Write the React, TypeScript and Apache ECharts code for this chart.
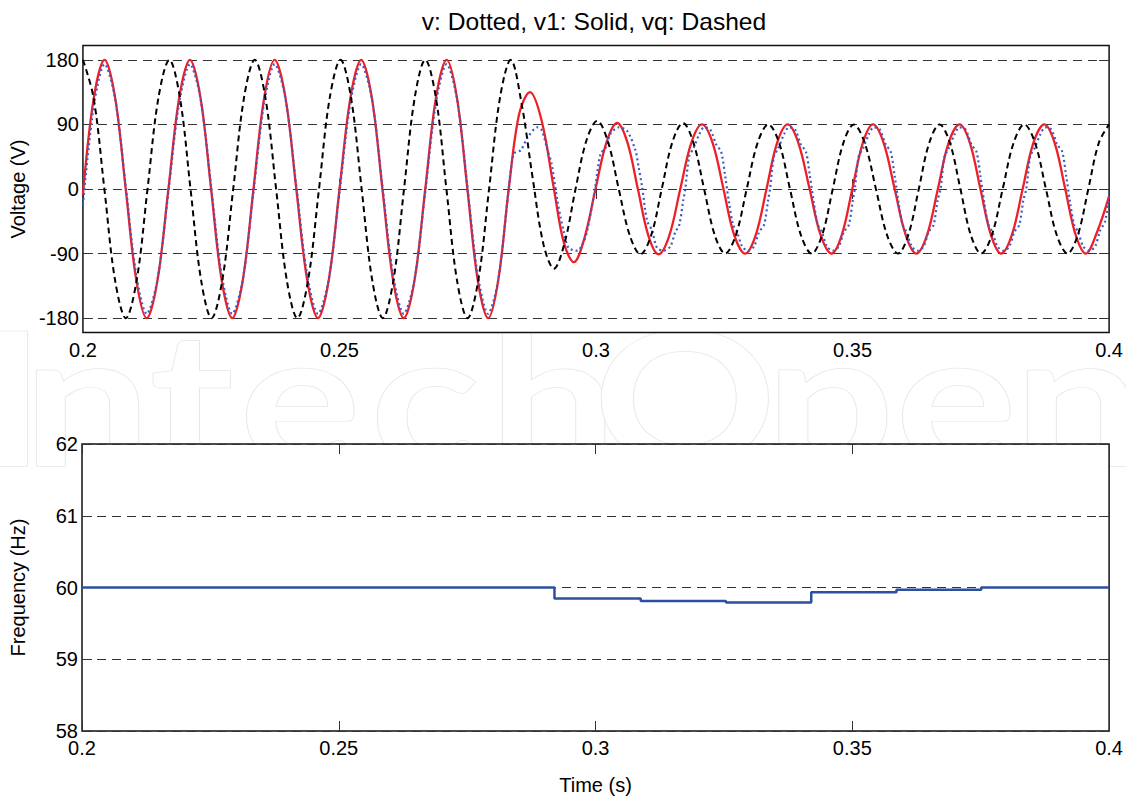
import React, { useEffect, useRef } from "react";
import * as echarts from "echarts";

// ---------- data ----------
const timeTicks = [0.2, 0.25, 0.3, 0.35, 0.4];
const voltageTicks = [-180, -90, 0, 90, 180];
const freqTicks = [58, 59, 60, 61, 62];

// vq : dashed black
const vqData: [number, number][] = [
  [0.20000,180],[0.20208,127],[0.20418,0],[0.20626,-127],[0.20836,-180],[0.21048,-127],[0.21259,0],[0.21471,127],
  [0.21685,180],[0.21891,127],[0.22097,0],[0.22303,-127],[0.22507,-180],[0.22717,-127],[0.22929,0],[0.23139,127],
  [0.23349,180],[0.23557,127],[0.23765,0],[0.23973,-127],[0.24179,-180],[0.24389,-127],[0.24601,0],[0.24810,127],
  [0.25020,180],[0.25226,127],[0.25432,0],[0.25638,-127],[0.25844,-180],[0.26052,-127],[0.26258,0],[0.26466,127],
  [0.26672,180],[0.26880,127],[0.27084,0],[0.27290,-127],[0.27496,-180],[0.27706,-127],[0.27916,0],[0.28128,127],
  [0.28338,180],[0.28552,118],[0.28766,15],[0.28979,-78],[0.29180,-111],[0.29388,-75],[0.29601,0],[0.29815,68],
  [0.30023,95],[0.30233,66],[0.30443,0],[0.30655,-64],[0.30865,-91],[0.31073,-65],[0.31281,0],[0.31487,65],
  [0.31695,92],[0.31901,64],[0.32107,0],[0.32313,-64],[0.32517,-90],[0.32727,-64],[0.32937,0],[0.33148,64],
  [0.33358,90],[0.33570,64],[0.33780,0],[0.33992,-64],[0.34202,-90],[0.34408,-64],[0.34614,0],[0.34820,64],
  [0.35024,90],[0.35238,64],[0.35456,0],[0.35671,-64],[0.35885,-90],[0.36087,-64],[0.36291,0],[0.36493,64],
  [0.36696,90],[0.36898,64],[0.37102,0],[0.37304,-64],[0.37506,-90],[0.37716,-64],[0.37926,0],[0.38138,64],
  [0.38348,90],[0.38558,64],[0.38769,0],[0.38979,-64],[0.39189,-90],[0.39391,-64],[0.39595,0],[0.39798,64],
  [0.40000,90],
];

// v1 : solid red
const v1Data: [number, number][] = [
  [0.20000,-8],[0.20212,127],[0.20422,180],[0.20628,127],[0.20834,0],[0.21040,-127],[0.21244,-180],[0.21454,-127],
  [0.21666,0],[0.21876,127],[0.22086,180],[0.22292,127],[0.22498,0],[0.22704,-127],[0.22910,-180],[0.23116,-127],
  [0.23324,0],[0.23532,127],[0.23738,180],[0.23948,127],[0.24159,0],[0.24371,-127],[0.24581,-180],[0.24791,-127],
  [0.25001,0],[0.25213,127],[0.25423,180],[0.25631,127],[0.25837,0],[0.26045,-127],[0.26253,-180],[0.26463,-127],
  [0.26672,0],[0.26880,127],[0.27088,180],[0.27290,127],[0.27493,0],[0.27695,-127],[0.27897,-180],[0.28095,-127],
  [0.28299,0],[0.28503,105],[0.28713,135],[0.28941,95],[0.29180,0],[0.29374,-75],[0.29568,-102],[0.29776,-68],
  [0.29990,0],[0.30204,65],[0.30412,92],[0.30612,65],[0.30816,0],[0.31020,-65],[0.31220,-91],[0.31428,-65],
  [0.31642,0],[0.31856,64],[0.32064,90],[0.32274,64],[0.32484,0],[0.32692,-64],[0.32906,-90],[0.33114,-64],
  [0.33323,0],[0.33528,64],[0.33735,90],[0.33945,64],[0.34163,0],[0.34377,-64],[0.34591,-90],[0.34791,-64],
  [0.34995,0],[0.35199,64],[0.35399,90],[0.35607,64],[0.35821,0],[0.36035,-64],[0.36243,-90],[0.36453,-64],
  [0.36663,0],[0.36870,64],[0.37084,90],[0.37288,64],[0.37492,0],[0.37697,-64],[0.37895,-90],[0.38105,-64],
  [0.38315,0],[0.38523,64],[0.38736,90],[0.38940,64],[0.39145,0],[0.39349,-64],[0.39547,-90],[0.39766,-60],
  [0.40000,-10],
];

// v : dotted blue
const vData: [number, number][] = [
  [0.20000,-22],[0.20212,116],[0.20422,174],[0.20628,126],[0.20834,4],[0.21040,-120],[0.21244,-174],[0.21454,-126],
  [0.21666,-4],[0.21876,120],[0.22086,174],[0.22292,126],[0.22498,4],[0.22704,-120],[0.22910,-174],[0.23116,-126],
  [0.23324,-4],[0.23532,120],[0.23738,174],[0.23948,126],[0.24159,4],[0.24371,-120],[0.24581,-174],[0.24791,-126],
  [0.25001,-4],[0.25213,120],[0.25423,174],[0.25631,126],[0.25837,4],[0.26045,-120],[0.26253,-174],[0.26463,-126],
  [0.26672,-4],[0.26880,120],[0.27088,174],[0.27290,126],[0.27493,4],[0.27695,-120],[0.27897,-174],[0.28095,-126],
  [0.28299,0],[0.28396,49],[0.28532,54],[0.28669,72],[0.28857,86],[0.28941,82],[0.29051,55],[0.29135,35],
  [0.29246,-16],[0.29310,-40],[0.29368,-58],[0.29465,-82],[0.29634,-86],[0.29763,-73],[0.29829,-58],[0.29980,0],
  [0.30087,49],[0.30185,57],[0.30282,77],[0.30443,86],[0.30606,81],[0.30768,54],[0.30832,30],[0.30898,3],
  [0.30995,-44],[0.31092,-58],[0.31189,-82],[0.31318,-86],[0.31448,-80],[0.31545,-60],[0.31623,-50],[0.31700,-16],
  [0.31739,0],[0.31817,46],[0.31895,56],[0.32011,76],[0.32109,86],[0.32225,83],[0.32342,62],[0.32439,52],
  [0.32517,18],[0.32595,-20],[0.32672,-50],[0.32750,-60],[0.32847,-80],[0.32964,-86],[0.33080,-80],[0.33178,-60],
  [0.33275,-50],[0.33353,-16],
  [0.33391,0],[0.33469,46],[0.33547,56],[0.33663,76],[0.33761,86],[0.33877,83],[0.33994,62],[0.34091,52],
  [0.34169,18],[0.34247,-20],[0.34324,-50],[0.34402,-60],[0.34499,-80],[0.34616,-86],[0.34733,-80],[0.34830,-60],
  [0.34927,-50],[0.35005,-16],
  [0.35043,0],[0.35121,46],[0.35199,56],[0.35316,76],[0.35413,86],[0.35529,83],[0.35646,62],[0.35743,52],
  [0.35821,18],[0.35899,-20],[0.35976,-50],[0.36054,-60],[0.36151,-80],[0.36268,-86],[0.36385,-80],[0.36482,-60],
  [0.36579,-50],[0.36657,-16],
  [0.36715,0],[0.36793,46],[0.36870,56],[0.36987,76],[0.37084,86],[0.37201,83],[0.37318,62],[0.37415,52],
  [0.37492,18],[0.37570,-20],[0.37648,-50],[0.37726,-60],[0.37823,-80],[0.37939,-86],[0.38056,-80],[0.38153,-60],
  [0.38250,-50],[0.38328,-16],
  [0.38386,0],[0.38464,46],[0.38542,56],[0.38659,76],[0.38756,86],[0.38872,83],[0.38989,62],[0.39086,52],
  [0.39164,18],[0.39242,-20],[0.39319,-50],[0.39397,-60],[0.39494,-80],[0.39611,-86],[0.39728,-80],[0.39825,-58],
  [0.39922,-45],[0.40000,-10],
];

// frequency estimate (step)
const freqTime = [0.2, 0.292, 0.3088, 0.3254, 0.342, 0.3586, 0.3751, 0.4];
const freqValue = [60, 59.846, 59.813, 59.79, 59.935, 59.97, 60.0, 60.0];

const titleText = "v: Dotted, v1: Solid, vq: Dashed";
const watermarkLetters = ["I", "n", "t", "e", "c", "h", "O", "p", "e", "n"];

// ---------- layout / style ----------
const FONT = "'Liberation Sans', Arial, Helvetica, sans-serif";
const watermarkCenterX = [12, 87, 192, 300, 425, 553, 685, 830, 956, 1078];

export default function App() {
  const ref = useRef<HTMLDivElement>(null);

  useEffect(() => {
    if (!ref.current) return;
    const chart = echarts.init(ref.current, null, { renderer: "svg" });

    const labelStyle = { color: "#000", fontSize: 20, fontFamily: FONT };
    const nameStyle = { color: "#000", fontSize: 20, fontFamily: FONT };
    const tick = (custom?: number[]) => ({
      show: true,
      inside: true,
      length: 10,
      lineStyle: { color: "#333", width: 1 },
      ...(custom ? { customValues: custom } : {}),
    });
    const gridLine = { show: true, lineStyle: { type: [9, 6], color: "#333", width: 1 } };

    const xCommon = (grid: number, pos: "top" | "bottom") => ({
      gridIndex: grid,
      type: "value",
      min: timeTicks[0],
      max: timeTicks[timeTicks.length - 1],
      interval: 0.05,
      position: pos,
      axisLine: { show: false },
      axisTick: tick(),
      splitLine: { show: false },
      axisLabel:
        pos === "bottom"
          ? { ...labelStyle, margin: 7, formatter: (v: number) => String(+v.toFixed(2)) }
          : { show: false },
    });

    const option: any = {
      animation: false,
      backgroundColor: "#fff",
      graphic: {
        elements: [
          ...watermarkLetters.map((ch, i) => ({
            type: "text",
            x: watermarkCenterX[i],
            y: 394,
            z: -10,
            silent: true,
            scaleX: 1.22,
            style: {
              text: ch,
              font: `bold 186px Lato, 'Open Sans', sans-serif`,
              fill: "#fff",
              stroke: "#e6e6e6",
              lineWidth: 1.5,
              align: "center",
              verticalAlign: "middle",
            },
          })),
          {
            type: "text",
            x: 594,
            y: 22,
            scaleX: 1.07,
            style: {
              text: titleText,
              font: `23px ${FONT}`,
              fill: "#000",
              align: "center",
              verticalAlign: "middle",
            },
          },
        ],
      },
      grid: [
        { left: 81, top: 45.5, width: 1029, height: 287, show: true, backgroundColor: "#fff", borderColor: "#111", borderWidth: 1.5, z: 0 },
        { left: 81, top: 444, width: 1029, height: 287, show: true, backgroundColor: "#fff", borderColor: "#111", borderWidth: 1.5, z: 0 },
      ],
      xAxis: [
        xCommon(0, "bottom"),
        xCommon(0, "top"),
        { ...xCommon(1, "bottom"), name: "Time (s)", nameLocation: "middle", nameGap: 44, nameTextStyle: nameStyle },
        xCommon(1, "top"),
      ],
      yAxis: [
        {
          gridIndex: 0, type: "value", min: -200, max: 200, position: "left",
          axisLine: { show: false },
          axisTick: tick(voltageTicks),
          axisLabel: { ...labelStyle, margin: 4, customValues: voltageTicks },
          splitLine: gridLine,
          name: "Voltage (V)", nameLocation: "middle", nameGap: 54, nameRotate: 90, nameTextStyle: nameStyle,
        },
        {
          gridIndex: 0, type: "value", min: -200, max: 200, position: "right",
          axisLine: { show: false },
          axisTick: tick(voltageTicks),
          axisLabel: { show: false, customValues: voltageTicks },
          splitLine: { show: false },
        },
        {
          gridIndex: 1, type: "value", min: freqTicks[0], max: freqTicks[freqTicks.length - 1], interval: 1, position: "left",
          axisLine: { show: false },
          axisTick: tick(),
          axisLabel: { ...labelStyle, margin: 4 },
          splitLine: gridLine,
          name: "Frequency (Hz)", nameLocation: "middle", nameGap: 54, nameRotate: 90, nameTextStyle: nameStyle,
        },
        {
          gridIndex: 1, type: "value", min: freqTicks[0], max: freqTicks[freqTicks.length - 1], interval: 1, position: "right",
          axisLine: { show: false },
          axisTick: tick(),
          axisLabel: { show: false },
          splitLine: { show: false },
        },
      ],
      series: [
        {
          name: "v1", type: "line", xAxisIndex: 0, yAxisIndex: 0, data: v1Data,
          showSymbol: false, symbol: "none", smooth: 0.35, z: 3,
          lineStyle: { color: "#ee1f26", width: 2.3 },
        },
        {
          name: "v", type: "line", xAxisIndex: 0, yAxisIndex: 0, data: vData,
          showSymbol: false, symbol: "none", smooth: 0.3, z: 4,
          lineStyle: { color: "#3a5cc4", width: 2.2, type: [2, 3] },
        },
        {
          name: "vq", type: "line", xAxisIndex: 0, yAxisIndex: 0, data: vqData,
          showSymbol: false, symbol: "none", smooth: 0.35, z: 5,
          lineStyle: { color: "#000", width: 2, type: [6, 4] },
        },
        {
          name: "frequency", type: "line", xAxisIndex: 2, yAxisIndex: 2,
          data: freqTime.map((t, i) => [t, freqValue[i]]),
          step: "end", showSymbol: false, symbol: "none", z: 3,
          lineStyle: { color: "#2d4f9f", width: 2.5 },
        },
      ],
    };

    chart.setOption(option);
    return () => chart.dispose();
  }, []);

  return (
    <div
      ref={ref}
      style={{ position: "absolute", left: 0, top: 0, width: 1126, height: 801, background: "#fff" }}
    />
  );
}
